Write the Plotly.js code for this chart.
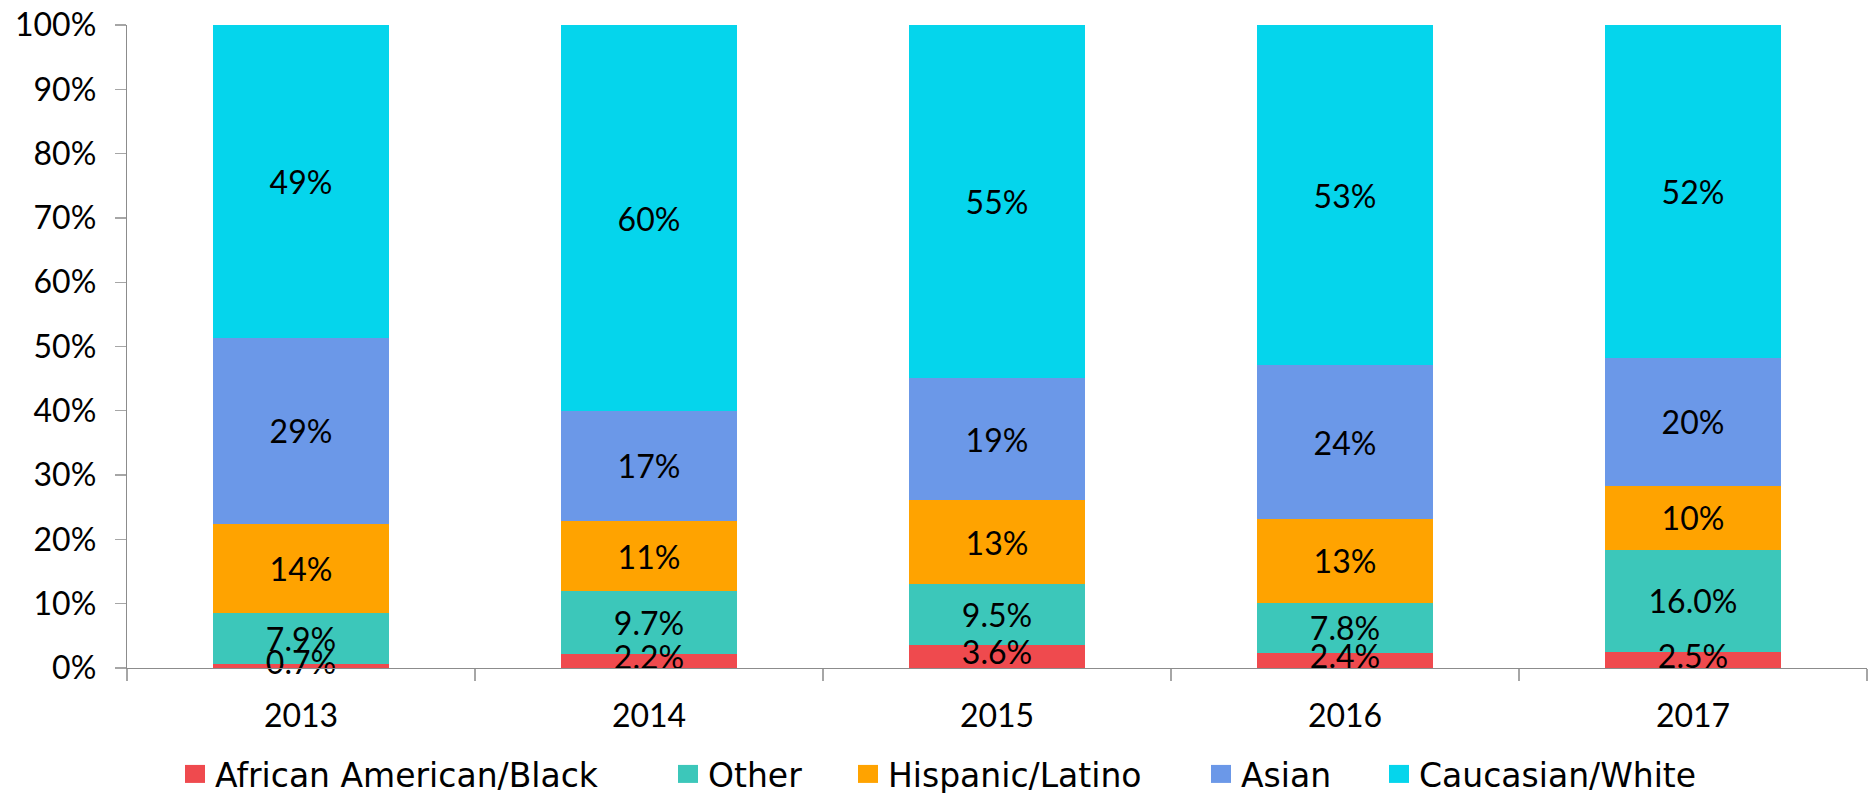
<!DOCTYPE html>
<html>
<head>
<meta charset="utf-8">
<script src="https://cdn.plot.ly/plotly-3.0.1.min.js"></script>
<style>html,body{margin:0;padding:0;background:#fff;}#chart{width:1873px;height:793px;}</style>
</head>
<body>
<div id="chart"></div>
<script>
const years = ['2013', '2014', '2015', '2016', '2017'];
const seriesNames = ['African American/Black', 'Other', 'Hispanic/Latino', 'Asian', 'Caucasian/White'];
const black = [0.7, 2.2, 3.6, 2.4, 2.5];
const other = [7.9, 9.7, 9.5, 7.8, 16.0];
const hispanic = [14, 11, 13, 13, 10];
const asian = [29, 17, 19, 24, 20];
const white = [49, 60, 55, 53, 52];
const labelDecimals = [1, 1, 0, 0, 0];
const colors = ['#EF4A4E', '#3CC7BA', '#FFA300', '#6B98E8', '#05D5EC'];

const FONT = 'Lato, "Open Sans", sans-serif';
const LEGFONT = '"DejaVu Sans", Verdana, sans-serif';
const allSeries = [black, other, hispanic, asian, white];
const legendIds = ['legend', 'legend2', 'legend3', 'legend4', 'legend5'];
const fmt = (v, d) => v.toFixed(d) + '%';

const traces = allSeries.map((vals, i) => ({
  type: 'bar',
  name: seriesNames[i],
  legend: legendIds[i],
  x: years,
  y: vals,
  marker: {color: colors[i], line: {width: 0}},
  text: i === 0 ? undefined : vals.map(v => fmt(v, labelDecimals[i])),
  textposition: i === 0 ? 'none' : 'inside',
  insidetextanchor: 'middle',
  textangle: 0,
  textfont: {family: FONT, size: 32, color: '#000'},
  hoverinfo: 'skip'
}));

// Labels of the thin bottom segment, drawn on top (overflowing like the original)
const totals = years.map((_, j) => allSeries.reduce((s, arr) => s + arr[j], 0));
traces.push({
  type: 'scatter',
  mode: 'text',
  x: years,
  y: black.map((v, j) => v / totals[j] * 100 / 2),
  text: black.map(v => fmt(v, labelDecimals[0])),
  textposition: 'middle center',
  textfont: {family: FONT, size: 32, color: '#000'},
  cliponaxis: false,
  showlegend: false,
  hoverinfo: 'skip'
});

const legendSquareLeft = [190, 683, 863, 1216, 1394];
const legendBase = {
  orientation: 'h',
  xref: 'container', xanchor: 'left',
  y: 0.024, yref: 'container', yanchor: 'middle',
  font: {family: LEGFONT, size: 33, color: '#000'},
  bgcolor: 'rgba(0,0,0,0)',
  borderwidth: 0
};

const layout = {
  width: 1873,
  height: 793,
  barmode: 'stack',
  barnorm: 'percent',
  bargap: 0.497,
  margin: {l: 127, r: 6, t: 25, b: 125, pad: 0},
  paper_bgcolor: '#ffffff',
  plot_bgcolor: '#ffffff',
  font: {family: FONT, size: 32, color: '#000'},
  uniformtext: {minsize: 32, mode: 'show'},
  showlegend: true,
  xaxis: {
    type: 'category',
    showline: true, linecolor: '#8c8c8c', linewidth: 1.3,
    ticks: 'outside', tickson: 'boundaries', ticklen: 12, tickcolor: '#a6a6a6', tickwidth: 1.3,
    showgrid: false, zeroline: false,
    tickfont: {family: FONT, size: 32, color: '#000'},
    ticklabelstandoff: 19
  },
  yaxis: {
    range: [0, 100],
    dtick: 10,
    ticksuffix: '%',
    showline: true, linecolor: '#8c8c8c', linewidth: 1.3,
    ticks: 'outside', ticklen: 11, tickcolor: '#a6a6a6', tickwidth: 1.3,
    showgrid: false, zeroline: false,
    tickfont: {family: FONT, size: 32, color: '#000'},
    ticklabelstandoff: 12
  }
};
legendIds.forEach((id, i) => {
  layout[id] = Object.assign({}, legendBase, {x: (legendSquareLeft[i] - 15) / 1873});
});

Plotly.newPlot('chart', traces, layout, {displayModeBar: false, staticPlot: true}).then(gd => {
  // enlarge legend swatches to match the original's size
  gd.querySelectorAll('.legendpoints path').forEach(p => p.setAttribute('d', 'M10,9H-10V-9H10Z'));
});
</script>
</body>
</html>
